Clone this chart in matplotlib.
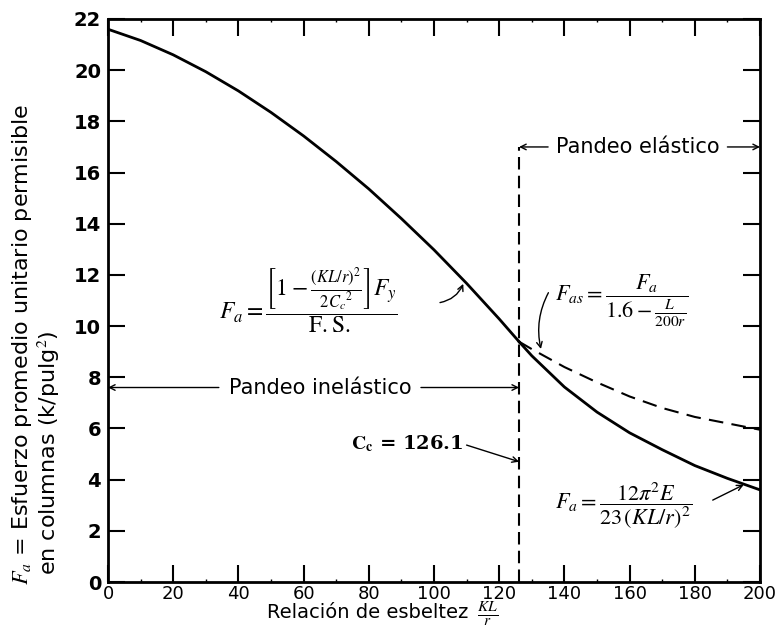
import matplotlib
matplotlib.use("Agg")
import matplotlib.pyplot as plt

plt.rcParams['font.family'] = ['DejaVu Sans']
plt.rcParams['mathtext.fontset'] = 'stix'

# valores
cc = 126.1
x_inel = [0, 10, 20, 30, 40, 50, 60, 70, 80, 90, 100, 110, 120, 126.1]
fa_inel = [21.6, 21.16, 20.6, 19.94, 19.19, 18.35, 17.43, 16.43, 15.36, 14.2, 12.98, 11.67, 10.28, 9.39]
x_el = [126.1, 130, 140, 150, 160, 170, 180, 190, 200]
fa_el = [9.39, 8.84, 7.62, 6.64, 5.83, 5.17, 4.55, 4.05, 3.6]
fas_el = [9.39, 9.1, 8.4, 7.8, 7.25, 6.8, 6.45, 6.2, 5.95]
xticks = list(range(0, 201, 20))
yticks = list(range(0, 23, 2))

fig = plt.figure(figsize=(7.79, 6.28), dpi=100)
ax = fig.add_axes([108 / 779, 1 - 582 / 628, 652 / 779, 563 / 628])

ax.plot(x_inel, fa_inel, color='black', lw=2.0)
ax.plot(x_el, fa_el, color='black', lw=2.0)
ax.plot(x_el, fas_el, color='black', lw=1.5, dashes=(7, 4))

# línea vertical en Cc
ax.plot([cc, cc], [0, 17.0], color='black', lw=1.5, dashes=(6, 3))

ax.set_xlim(0, 200)
ax.set_ylim(0, 22)
ax.set_xticks(xticks)
ax.set_yticks(yticks)
ax.set_xticks(range(10, 200, 20), minor=True)
ax.tick_params(which='major', direction='in', length=12, width=1.5,
               top=True, right=True, labelsize=13, pad=2)
ax.tick_params(axis='y', which='major', pad=5)
ax.tick_params(which='minor', direction='in', length=2, width=1, top=True)
for lab in ax.get_yticklabels():
    lab.set_fontweight('bold')
    lab.set_fontsize(14)
for s in ax.spines.values():
    s.set_linewidth(2)

# flechas de las zonas
arr = dict(arrowstyle='->', color='black', lw=1.0, shrinkA=0, shrinkB=0)
ax.annotate('', xy=(0, 7.6), xytext=(34, 7.6), arrowprops=arr)
ax.annotate('', xy=(cc, 7.6), xytext=(96, 7.6), arrowprops=arr)
ax.text(65, 7.6, 'Pandeo inelástico', ha='center', va='center', fontsize=15)

ax.annotate('', xy=(cc, 17.0), xytext=(135, 17.0), arrowprops=arr)
ax.annotate('', xy=(200, 17.0), xytext=(190, 17.0), arrowprops=arr)
ax.text(162.5, 17.0, 'Pandeo elástico', ha='center', va='center', fontsize=15)

# fórmulas
ax.text(34, 11.0, r'$F_a = \dfrac{\left[1 - \frac{(KL/r)^2}{2{C_c}^2}\right]F_y}{\mathrm{F.S.}}$',
        ha='left', va='center', fontsize=17)
ax.annotate('', xy=(109.3, 11.75), xytext=(101, 10.9),
            arrowprops=dict(arrowstyle='->', color='black', lw=1.0,
                            connectionstyle='arc3,rad=0.3'))

ax.text(137, 11.0, r'$F_{as} = \dfrac{F_a}{1.6 - \frac{L}{200r}}$',
        ha='left', va='center', fontsize=16)
ax.annotate('', xy=(133, 9.0), xytext=(135.5, 11.4),
            arrowprops=dict(arrowstyle='->', color='black', lw=1.0,
                            connectionstyle='arc3,rad=0.2'))

ax.text(109, 5.4, r'$\mathbf{C_c}$ = 126.1', ha='right', va='center',
        fontsize=14, family='DejaVu Serif', fontweight='bold')
ax.annotate('', xy=(cc, 4.7), xytext=(110, 5.35), arrowprops=arr)

ax.text(137, 3.0, r'$F_a = \dfrac{12\pi^2 E}{23\,(KL/r)^2}$',
        ha='left', va='center', fontsize=16)
ax.annotate('', xy=(195, 3.8), xytext=(185.5, 3.2), arrowprops=arr)

fig.text(468 / 779, 1 - 612 / 628, 'Relación de esbeltez', ha='right', va='center', fontsize=14)
fig.text(477 / 779, 1 - 614 / 628, r'$\frac{KL}{r}$', ha='left', va='center', fontsize=16)

fig.text(22 / 779, 1 - 585 / 628, r'$F_a$ = Esfuerzo promedio unitario permisible',
         rotation=90, ha='center', va='bottom', fontsize=16)
fig.text(49 / 779, 1 - 575 / 628, r'en columnas (k/pulg$^2$)',
         rotation=90, ha='center', va='bottom', fontsize=16)

fig.savefig('out.png', dpi=100)
